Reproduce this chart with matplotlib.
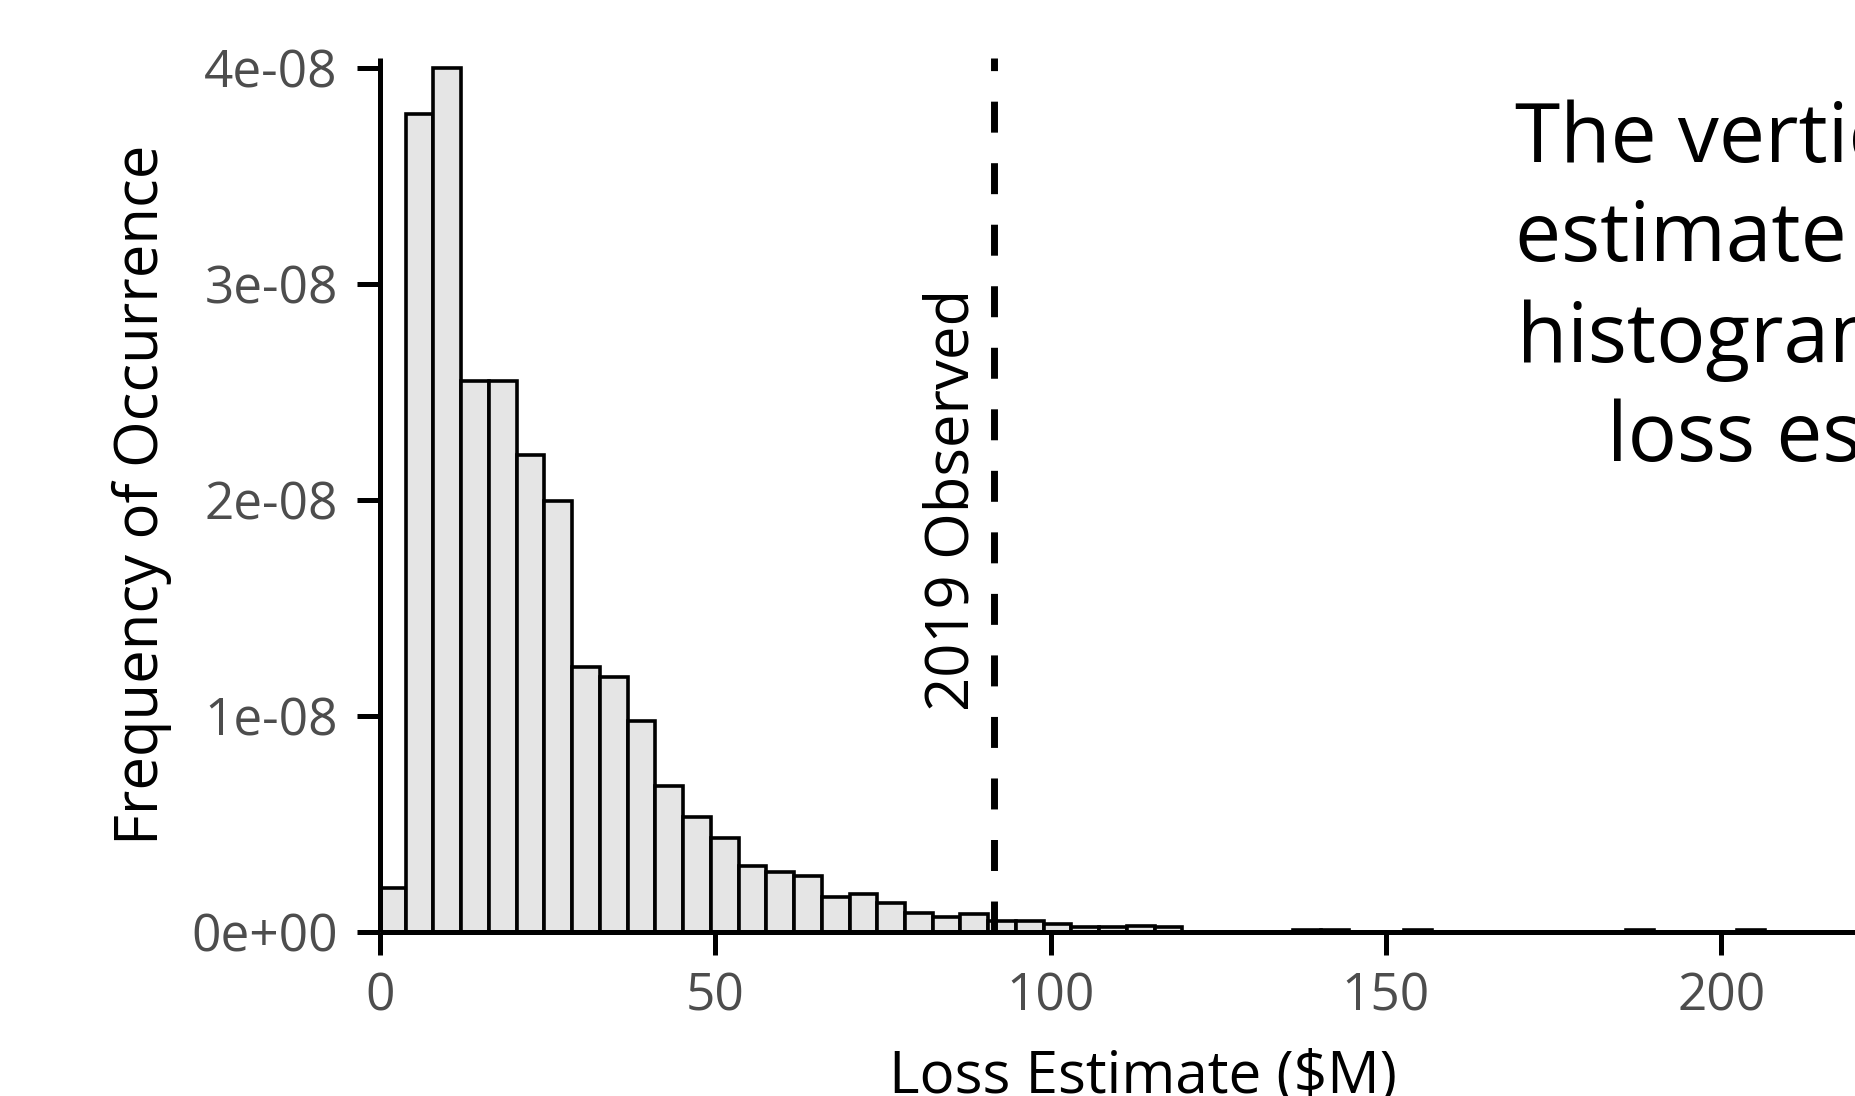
import numpy as np
import matplotlib
matplotlib.use('Agg')
import matplotlib.pyplot as plt

plt.rcParams['font.family'] = ['Open Sans', 'DejaVu Sans']

# histogram of simulated loss estimates ($M), density per bin
bin_start = -0.3
bin_width = 4.136
density = [0.205, 3.79, 4.00, 2.55, 2.55, 2.21, 1.995, 1.23, 1.18, 0.98,
           0.676, 0.536, 0.438, 0.305, 0.281, 0.26, 0.162, 0.175, 0.134, 0.09,
           0.073, 0.085, 0.054, 0.054, 0.039, 0.023, 0.023, 0.031, 0.023, 0.0,
           0.0, 0.0, 0.0, 0.01, 0.01, 0.0, 0.0, 0.01, 0.0, 0.0,
           0.0, 0.0, 0.0, 0.0, 0.0, 0.01, 0.0, 0.0, 0.0, 0.01,
           0.0, 0.0, 0.0, 0.0, 0.0]
density = np.array(density) * 1e-8
observed_2019 = 91.5

x_ticks = [0, 50, 100, 150, 200]
y_ticks = [0, 1e-8, 2e-8, 3e-8, 4e-8]
y_tick_labels = ['0e+00', '1e-08', '2e-08', '3e-08', '4e-08']

note_lines = ['The vertical dashed line marks the loss',
              'estimate for 2019, and the',
              'histogram shows the simulated',
              'loss estimates.']

W, H = 1856, 1096
fig = plt.figure(figsize=(W / 100, H / 100), dpi=100)
ax = fig.add_axes([380 / W, (H - 932.3) / H, 1525.7 / W, 874 / H])

lefts = bin_start + bin_width * np.arange(len(density))
ax.bar(lefts, density, width=bin_width, align='edge', color='#e5e5e5',
       edgecolor='black', linewidth=2.6, zorder=2)

ax.plot([observed_2019, observed_2019], [0, 4.046e-8], color='black',
        linewidth=5, linestyle=(0, (4.46, 4.4)), zorder=3)
ax.text(85.4, 2.0e-8, '2019 Observed', rotation=90, ha='center', va='center',
        fontsize=43, color='black')

ax.set_xlim(0, 227.5)
ax.set_ylim(0, 4.046e-8)

for side in ['top', 'right']:
    ax.spines[side].set_visible(False)
for side in ['left', 'bottom']:
    ax.spines[side].set_linewidth(3.6)
    ax.spines[side].set_color('black')
    ax.spines[side].set_capstyle('butt')

ax.set_xticks(x_ticks)
ax.set_xticklabels([str(t) for t in x_ticks])
ax.set_yticks(y_ticks)
ax.set_yticklabels(y_tick_labels)
ax.tick_params(axis='both', length=16.5, width=3.6, color='black',
               labelsize=37, labelcolor='#4d4d4d')
ax.tick_params(axis='x', pad=12)
ax.tick_params(axis='y', pad=14)

ax.set_xlabel('Loss Estimate ($M)', fontsize=42, va='baseline')
ax.xaxis.set_label_coords(0.5, -0.184)
ax.set_ylabel('Frequency of Occurrence', fontsize=43, va='center')
ax.yaxis.set_label_coords((142 - 380) / 1525.7, 0.5)

note_x = [1515, 1515, 1517, 1607]
note_y = [161.7, 260.7, 361.7, 460.7]
for txt, nx, ny in zip(note_lines, note_x, note_y):
    fig.text(nx / W, 1 - ny / H, txt, ha='left', va='baseline',
             fontsize=59, color='black')

fig.savefig('out.png', dpi=100, facecolor='white')
